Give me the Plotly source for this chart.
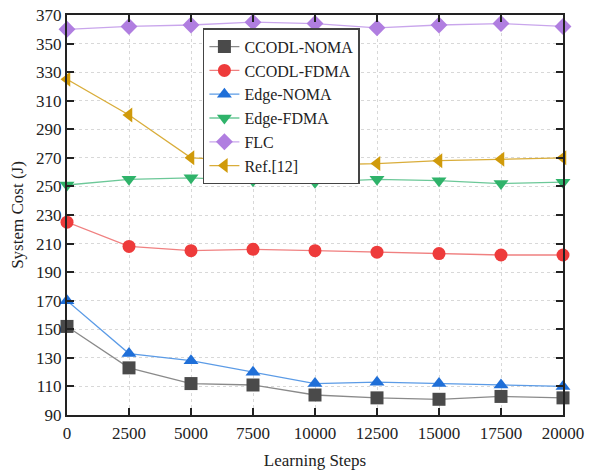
import plotly.graph_objects as go

steps = [0, 2500, 5000, 7500, 10000, 12500, 15000, 17500, 20000]
step_labels = ["0", "2500", "5000", "7500", "10000", "12500", "15000", "17500", "20000"]
cost_ticks = [90, 110, 130, 150, 170, 190, 210, 230, 250, 270, 290, 310, 330, 350, 370]
ccodl_noma = [152, 123, 112, 111, 104, 102, 101, 103, 102]
ccodl_fdma = [225, 208, 205, 206, 205, 204, 203, 202, 202]
edge_noma = [170, 133, 128, 120, 112, 113, 112, 111, 110]
edge_fdma = [251, 255, 256, 254, 253, 255, 254, 252, 253]
flc = [360, 362, 363, 365, 364, 361, 363, 364, 362]
ref12 = [325, 300, 270, 268, 265, 266, 268, 269, 270]

series = [
    ("CCODL-NOMA", ccodl_noma, "#4a4a4a", "#8a8a8a", "square"),
    ("CCODL-FDMA", ccodl_fdma, "#ee3b3b", "#f08080", "circle"),
    ("Edge-NOMA", edge_noma, "#1f6fd8", "#5b9be6", "triangle-up"),
    ("Edge-FDMA", edge_fdma, "#2fb36a", "#6cc898", "triangle-down"),
    ("FLC", flc, "#b07ee0", "#c9a6ec", "diamond"),
    ("Ref.[12]", ref12, "#d09a0a", "#d9ad3a", "triangle-left"),
]

fig = go.Figure()
for name, vals, mc, lc, sym in series:
    fig.add_trace(go.Scatter(
        x=steps, y=vals, name=name, mode="lines+markers",
        line=dict(color=lc, width=1.3),
        marker=dict(symbol=sym, size=13, color=mc, line=dict(width=0)),
        cliponaxis=False,
    ))

font = "Liberation Serif, Times New Roman, serif"
axis_common = dict(
    showline=True, linecolor="#222", linewidth=2, mirror="ticks",
    ticks="inside", ticklen=7, tickwidth=2, tickcolor="#222",
    showgrid=True, gridcolor="#d8d8d8", griddash="dot", gridwidth=1,
    zeroline=False, automargin=False,
    tickfont=dict(family=font, size=17, color="#222"),
)
fig.update_xaxes(range=[0, 20000], tickvals=steps, ticktext=step_labels,
                 ticklabelstandoff=2,
                 title=dict(text="Learning Steps", font=dict(family=font, size=17, color="#222"), standoff=12),
                 **axis_common)
fig.update_yaxes(range=[90, 370], tickvals=cost_ticks,
                 title=dict(text="System Cost (J)", font=dict(family=font, size=17, color="#222"), standoff=8),
                 **axis_common)
fig.update_layout(
    width=593, height=470,
    margin=dict(l=67, r=30, t=15, b=55),
    plot_bgcolor="white", paper_bgcolor="white",
    font=dict(family=font, size=17, color="#222"),
    legend=dict(x=0.274, y=0.967, xanchor="left", yanchor="top",
                bgcolor="white", bordercolor="#444", borderwidth=1.5,
                font=dict(family=font, size=16, color="#222"),
                itemwidth=30, tracegroupgap=0),
    showlegend=True,
)
fig.write_html("out.html")
